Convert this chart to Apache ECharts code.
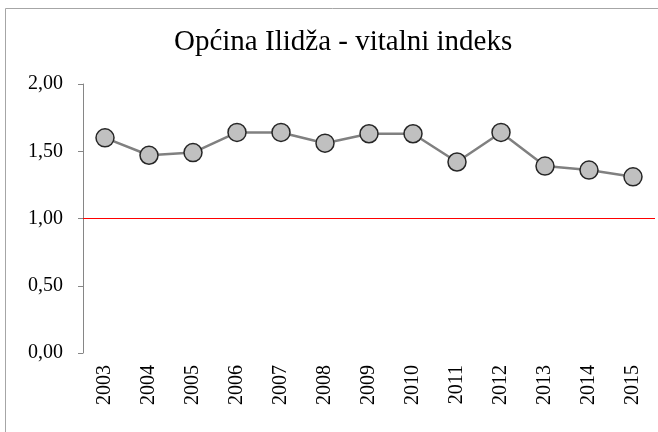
<!DOCTYPE html>
<html>
<head>
<meta charset="utf-8">
<script src="https://cdn.jsdelivr.net/npm/echarts@6/dist/echarts.min.js"></script>
<style>
  html, body { margin: 0; padding: 0; background: #fff; }
  #chartmain { width: 658px; height: 432px; }
</style>
</head>
<body>
<div id="chartmain"></div>
<script>
var years = ['2003', '2004', '2005', '2006', '2007', '2008', '2009', '2010', '2011', '2012', '2013', '2014', '2015'];
var indeks = [1.60, 1.47, 1.49, 1.64, 1.64, 1.56, 1.63, 1.63, 1.42, 1.64, 1.39, 1.36, 1.31];
var granica = 1.00;

var serif = 'Liberation Serif';

var option = {
	animation : false,
	title : {
		text : 'Općina Ilidža - vitalni indeks',
		left : 174,
		top : 28,
		padding : 0,
		textStyle : {
			fontFamily : serif,
			fontWeight : 'normal',
			fontSize : 29,
			color : '#000'
		}
	},
	graphic : [ {
		type : 'rect',
		shape : { x : 5.5, y : 8.5, width : 700, height : 500 },
		style : { fill : 'none', stroke : '#a6a6a6', lineWidth : 1 }
	} ],
	grid : {
		left : 83,
		right : 3,
		top : 84,
		bottom : 79
	},
	xAxis : {
		type : 'category',
		data : years,
		boundaryGap : true,
		axisLine : { show : false },
		axisTick : { show : false },
		axisLabel : {
			rotate : 90,
			margin : 12,
			fontFamily : serif,
			fontSize : 20,
			color : '#000'
		}
	},
	yAxis : {
		type : 'value',
		min : 0,
		max : 2,
		interval : 0.5,
		axisLine : { show : true, lineStyle : { color : '#868686' } },
		axisTick : { show : true, inside : false, length : 5, lineStyle : { color : '#868686' } },
		splitLine : { show : false },
		axisLabel : {
			margin : 20,
			fontFamily : serif,
			fontSize : 20,
			color : '#000',
			formatter : function(v) { return v.toFixed(2).replace('.', ','); }
		}
	},
	series : [ {
		name : 'vitalni indeks',
		type : 'line',
		data : indeks,
		symbol : 'circle',
		symbolSize : 18,
		lineStyle : { color : '#808080', width : 2.5 },
		itemStyle : { color : '#c0c0c0', borderColor : '#262626', borderWidth : 1.5 },
		markLine : {
			silent : true,
			symbol : 'none',
			label : { show : false },
			lineStyle : { color : '#ff0000', width : 1, type : 'solid' },
			data : [ { yAxis : granica } ]
		}
	} ]
};
var myChart = echarts.init(document.getElementById('chartmain'));
myChart.setOption(option);
</script>
</body>
</html>
